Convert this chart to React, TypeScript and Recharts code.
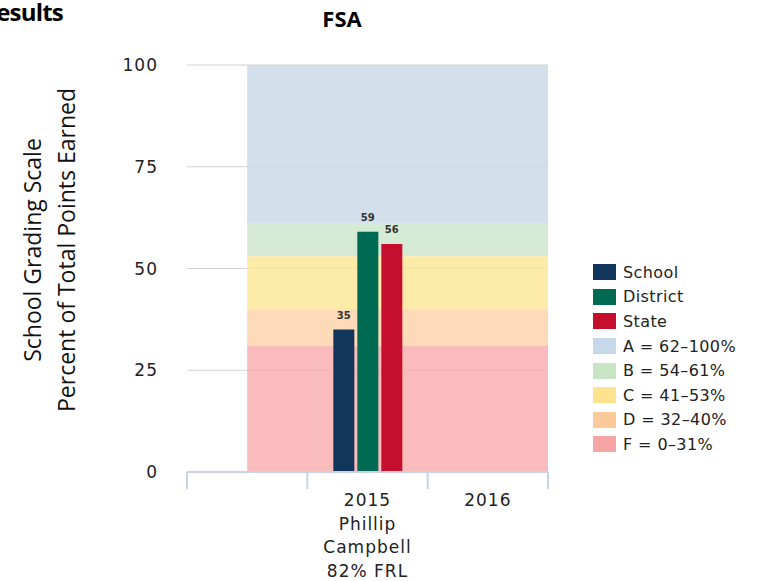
import { BarChart, Bar, XAxis, YAxis, CartesianGrid, ReferenceArea, LabelList, Legend } from 'recharts';

// categories on the x axis (first one is an empty slot, as in the original)
const years = ['', '2015', '2016'];
const slotCenters = [0.5, 1.5, 2.5];
const slotEdges = [0, 1, 2, 3];
const schoolNote = ['Phillip', 'Campbell', '82% FRL'];

const schoolScores = [null, 35, null];
const districtScores = [null, 59, null];
const stateScores = [null, 56, null];

const seriesNames = ['School', 'District', 'State'];
const seriesColors = ['#12355b', '#006a52', '#c60f2f'];

// grading scale bands
const gradeLabels = ['A = 62–100%', 'B = 54–61%', 'C = 41–53%', 'D = 32–40%', 'F = 0–31%'];
const gradeFrom = [61, 53, 40, 31, 0];
const gradeTo = [100, 61, 53, 40, 31];
const gradeFills = ['#c8d7e5', '#cbe6cb', '#fce695', '#fcd1a6', '#f8aaaa'];
const gradeSwatches = ['#c6d8ea', '#c8e6c6', '#fde38e', '#fcc99a', '#f7a4a4'];

const yTicks = [0, 25, 50, 75, 100];

const FONT = '"DejaVu Sans", Verdana, sans-serif';

const chartData = years.map((year, i) => ({
  year,
  pos: slotCenters[i],
  school: schoolScores[i],
  district: districtScores[i],
  state: stateScores[i],
}));

function YearTick({ x, y, payload }: any) {
  if (!payload.value) return null;
  const lines = payload.value === '2015' ? [payload.value, ...schoolNote] : [payload.value];
  return (
    <text textAnchor="middle" fontFamily={FONT} fontSize={17} fill="#222" letterSpacing={1}>
      {lines.map((t, i) => (
        <tspan key={i} x={x} y={y + 31 + i * 23.5}>{t}</tspan>
      ))}
    </text>
  );
}

function ScaleLegend() {
  const items = [
    ...seriesNames.map((n, i) => ({ name: n, color: seriesColors[i] })),
    ...gradeLabels.map((n, i) => ({ name: n, color: gradeSwatches[i] })),
  ];
  return (
    <div style={{ fontFamily: FONT, fontSize: 16, color: '#222', letterSpacing: 0.4 }}>
      {items.map(item => (
        <div key={item.name} style={{ display: 'flex', alignItems: 'center', height: 24.6 }}>
          <span style={{ width: 23, height: 16, background: item.color, marginRight: 7, display: 'inline-block' }} />
          <span>{item.name}</span>
        </div>
      ))}
    </div>
  );
}

function AxisTitle() {
  return (
    <g fontFamily='"Open Sans", sans-serif' fontSize={23} fill="#111">
      <text x={32} y={250} transform="rotate(-90 32 250)" textAnchor="middle" dominantBaseline="central">
        School Grading Scale
      </text>
      <text x={66} y={250} transform="rotate(-90 66 250)" textAnchor="middle" dominantBaseline="central">
        Percent of Total Points Earned
      </text>
    </g>
  );
}

export default function App() {
  return (
    <div style={{ position: 'absolute', left: 0, top: 0, width: 759, height: 581, background: '#fff', overflow: 'hidden' }}>
      <div style={{ position: 'absolute', right: 696, top: -5, fontFamily: '"Open Sans", sans-serif', fontWeight: 700, fontSize: 24, color: '#000', whiteSpace: 'nowrap', letterSpacing: -0.8 }}>
        Results
      </div>
      <div style={{ position: 'absolute', left: 342, top: 3, transform: 'translateX(-50%)', fontFamily: '"Open Sans", sans-serif', fontWeight: 700, fontSize: 22, color: '#000' }}>
        FSA
      </div>
      <BarChart
        width={759}
        height={581}
        data={chartData}
        margin={{ top: 65, right: 211, left: 0, bottom: 0 }}
        barSize={21}
        barGap={3}
      >
        <CartesianGrid xAxisId="cat" vertical={false} stroke="#d2d2d2" />
        {gradeLabels.map((g, i) => (
          <ReferenceArea
            key={g}
            xAxisId="band"
            x1={slotCenters[0]}
            x2={slotEdges[3]}
            y1={gradeFrom[i]}
            y2={gradeTo[i]}
            fill={gradeFills[i]}
            fillOpacity={0.8}
            stroke="none"
          />
        ))}
        <XAxis
          xAxisId="band"
          dataKey="pos"
          type="number"
          domain={[slotEdges[0], slotEdges[3]]}
          ticks={slotEdges}
          allowDataOverflow
          height={1}
          tickSize={17}
          tickFormatter={() => ''}
          axisLine={{ stroke: '#c6d4e3', strokeWidth: 2 }}
          tickLine={{ stroke: '#c6d4e3', strokeWidth: 2 }}
        />
        <XAxis
          xAxisId="cat"
          dataKey="year"
          height={108}
          interval={0}
          axisLine={false}
          tickLine={false}
          tickSize={0}
          tick={<YearTick />}
        />
        <YAxis
          width={187}
          domain={[0, 100]}
          ticks={yTicks}
          axisLine={false}
          tickLine={false}
          tickSize={0}
          tickMargin={29}
          tick={{ fontFamily: FONT, fontSize: 17, fill: '#222', letterSpacing: 1 }}
          label={<AxisTitle />}
        />
        <Legend
          layout="vertical"
          align="center"
          verticalAlign="middle"
          wrapperStyle={{ left: 593, top: 260, width: 170 }}
          content={() => <ScaleLegend />}
        />
        {['school', 'district', 'state'].map((key, i) => (
          <Bar key={key} xAxisId="cat" dataKey={key} name={seriesNames[i]} fill={seriesColors[i]} isAnimationActive={false}>
            <LabelList dataKey={key} position="top" offset={11} fontSize={10} fontWeight="bold" fill="#333" fontFamily={FONT} />
          </Bar>
        ))}
      </BarChart>
    </div>
  );
}
